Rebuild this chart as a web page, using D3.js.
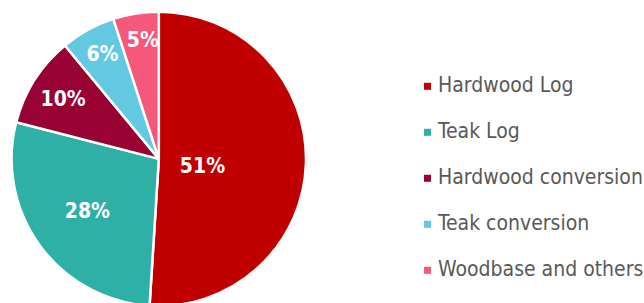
<!DOCTYPE html>
<html>
<head>
<meta charset="utf-8">
<script src="https://cdn.jsdelivr.net/npm/d3@7"></script>
<style>
  body { margin: 0; background: #fff; }
  svg { display: block; }
</style>
</head>
<body>
<svg id="chart" width="644" height="303"></svg>
<script>
// data
var categories = [ "Hardwood Log", "Teak Log", "Hardwood conversion",
                   "Teak conversion", "Woodbase and others" ];
var shares = [ 51, 28, 10, 6, 5 ];
var colors = [ "#c00000", "#2fb0a6", "#990033", "#63c8e1", "#f5587b" ];

window.addEventListener( "load", makePie );
function makePie() {
    var svg = d3.select( "#chart" );
    var cx = 158.8, cy = 158.9, r = 147.2;

    // label placement (best-fit like): distance as fraction of radius, angle nudge
    var labelK = [ 0.3, 0.6, 0.77, 0.81, 0.82 ];
    var labelTurn = [ 0.12, 0, 0, 0.01, 0.025 ];

    var pie = d3.pie().sort( null ).value( d => d.v );
    var arcs = pie( categories.map( (c,i) => ({ name: c, v: shares[i], i: i }) ) );
    var arc = d3.arc().innerRadius( 0 ).outerRadius( r );

    var g = svg.append( "g" ).attr( "transform", "translate(" + cx + "," + cy + ")" );
    g.selectAll( "path" ).data( arcs ).enter().append( "path" )
        .attr( "d", arc )
        .attr( "fill", d => colors[d.data.i] )
        .attr( "stroke", "#fff" ).attr( "stroke-width", 2.5 )
        .attr( "stroke-linejoin", "round" );

    g.selectAll( "text" ).data( arcs ).enter().append( "text" )
        .attr( "transform", d => {
            var a = (d.startAngle + d.endAngle) / 2 + labelTurn[d.data.i];
            var k = labelK[d.data.i] * r;
            return "translate(" + (k*Math.sin(a)) + "," + (-k*Math.cos(a)) + ")";
        } )
        .attr( "text-anchor", "middle" ).attr( "dy", "0.36em" )
        .attr( "fill", "#fff" )
        .attr( "font-family", "'DejaVu Sans Condensed', 'DejaVu Sans', sans-serif" )
        .attr( "font-weight", "bold" ).attr( "font-size", 21 )
        .text( d => d.data.v + "%" );

    // legend
    var ly = d3.scalePoint().domain( categories ).range( [ 84.3, 268.3 ] );
    var leg = svg.append( "g" ).selectAll( "g" ).data( categories ).enter()
        .append( "g" ).attr( "transform", d => "translate(424," + ly(d) + ")" );
    leg.append( "rect" ).attr( "x", 0 ).attr( "y", -1.5 )
        .attr( "width", 7 ).attr( "height", 7 )
        .attr( "fill", (d,i) => colors[i] );
    leg.append( "text" ).attr( "x", 14 ).attr( "y", 7.5 )
        .attr( "fill", "#595959" )
        .attr( "font-family", "'DejaVu Sans Condensed', 'DejaVu Sans', sans-serif" )
        .attr( "font-size", 21 )
        .text( d => d );
}
</script>
</body>
</html>
